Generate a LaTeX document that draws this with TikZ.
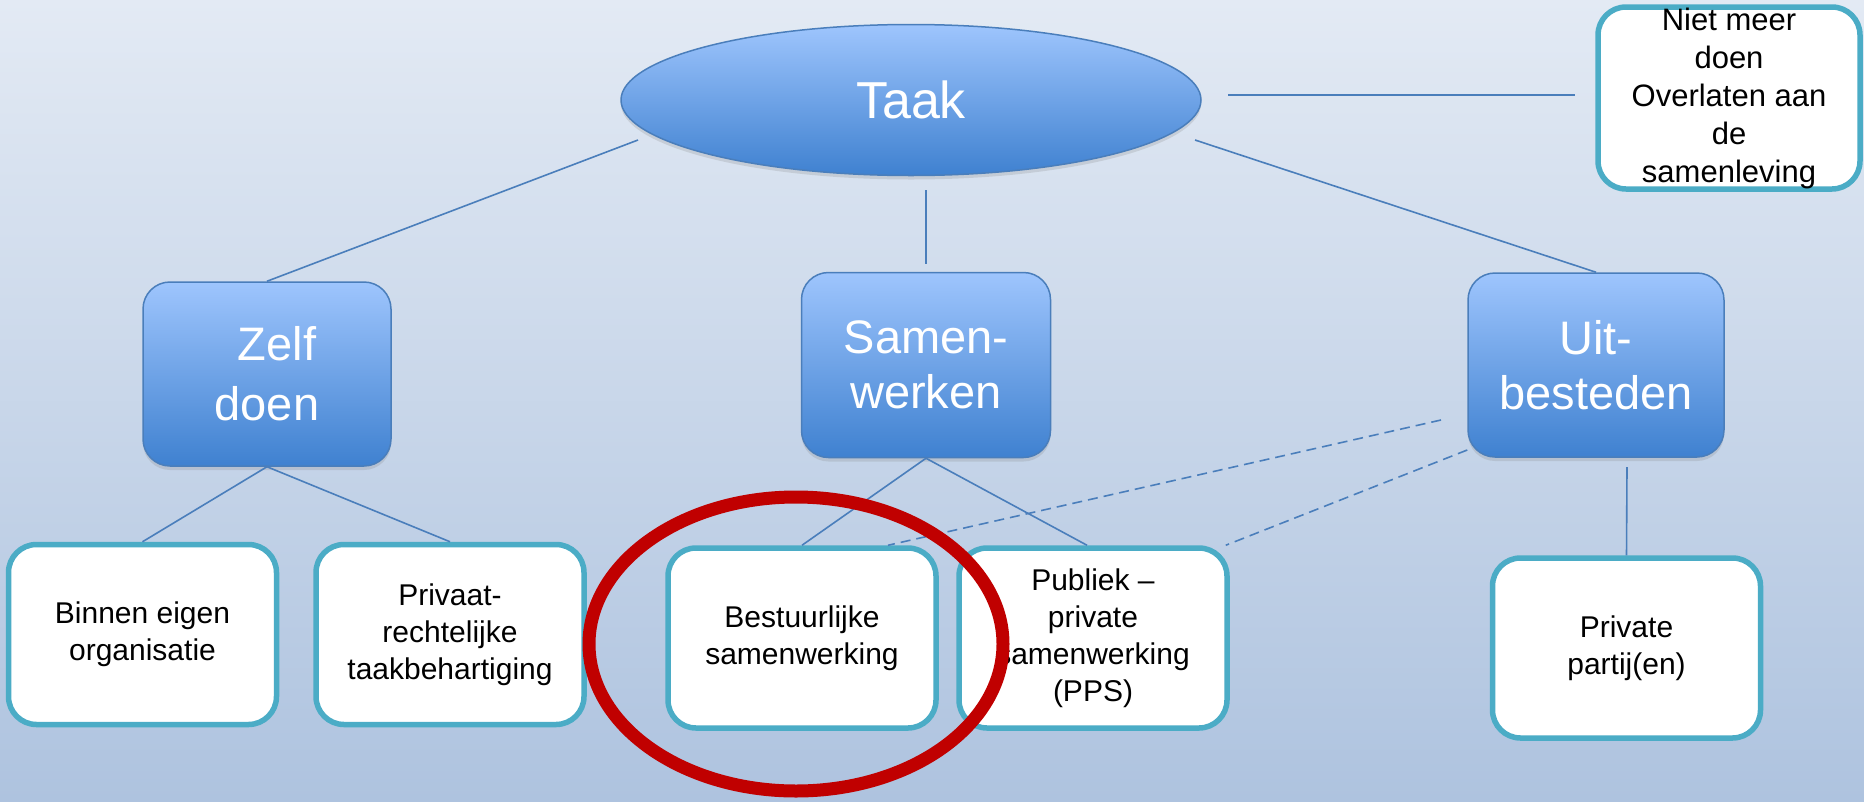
\documentclass[tikz,border=0pt]{standalone}
\usepackage{fontspec}
\setmainfont{Liberation Sans}
\usetikzlibrary{shapes.geometric,shadows}
\definecolor{bgtop}{HTML}{E3EAF4}
\definecolor{bgbot}{HTML}{AEC3DF}
\definecolor{bluetop}{HTML}{9EC5FD}
\definecolor{bluebot}{HTML}{3F81D0}
\definecolor{blueedge}{HTML}{4A7EBB}
\definecolor{tealedge}{HTML}{4BACC6}
\definecolor{linecol}{HTML}{4A7EBB}
\definecolor{redring}{HTML}{C00000}
\tikzset{
  softshadow/.style={drop shadow={shadow xshift=0pt, shadow yshift=-4pt, opacity=0.22}},
  bluebox/.style={rounded corners=27pt, draw=blueedge, line width=1.5pt,
    top color=bluetop, bottom color=bluebot, text=white, align=center,
    inner sep=0pt, font=\fontsize{47}{55}\selectfont, softshadow},
  whitebox/.style={rounded corners=28pt, draw=tealedge, line width=5.5pt,
    fill=white, minimum width=268pt, minimum height=180pt, align=center,
    inner sep=0pt, font=\fontsize{30}{37}\selectfont},
  link/.style={draw=linecol, line width=1.6pt},
  dlink/.style={link, dash pattern=on 10pt off 6pt},
}
\begin{document}
\begin{tikzpicture}[x=1pt,y=-1pt]
\useasboundingbox (0,0) rectangle (1864,801);
\shade[top color=bgtop, bottom color=bgbot] (0,0) rectangle (1864,801);

% top
\node[ellipse, draw=blueedge, line width=1.5pt, top color=bluetop, bottom color=bluebot,
      minimum width=580pt, minimum height=151pt, inner sep=0pt, text=white,
      font=\fontsize{52}{60}\selectfont, softshadow] (taak) at (911,100) {Taak};
\node[whitebox, minimum width=262pt, minimum height=182pt,
      font=\fontsize{31}{38}\selectfont] (niet) at (1729,98)
      {Niet meer\\doen\\Overlaten aan\\de\\samenleving};

% middle level
\node[bluebox, minimum width=248pt, minimum height=184pt,
      font=\fontsize{47}{60}\selectfont] (zelf) at (267,374) {\hspace*{20pt}Zelf\\doen};
\node[bluebox, minimum width=249pt, minimum height=185pt] (samen) at (926,365) {Samen-\\werken};
\node[bluebox, minimum width=256pt, minimum height=184pt] (uit) at (1596,365) {Uit-\\besteden};

% bottom level
\node[whitebox] (binnen) at (142.5,634.5) {Binnen eigen\\organisatie};
\node[whitebox] (privaat) at (450,634.5) {Privaat-\\rechtelijke\\taakbehartiging};
\node[whitebox] (best) at (802,638) {Bestuurlijke\\samenwerking};
\node[whitebox] (publiek) at (1093,638) {Publiek --\\private\\samenwerking\\(PPS)};
\node[whitebox] (private) at (1626.5,648) {Private\\partij(en)};

% free ends
\coordinate (tl) at (638,140);
\coordinate (tm1) at (926,190);
\coordinate (tm2) at (926,264);
\coordinate (tr) at (1195,140);
\coordinate (tn1) at (1228,95);
\coordinate (tn2) at (1575,95);
\coordinate (d1) at (1441,420);
\coordinate (u1) at (1627,467);

% connectors
\draw[link] (tl) -- (zelf.north);
\draw[link] (tm1) -- (tm2);
\draw[link] (tr) -- (uit.north);
\draw[link] (tn1) -- (tn2);
\draw[link] (zelf.south) -- (binnen.north);
\draw[link] (zelf.south) -- (privaat.north);
\draw[link] (samen.south) -- (best.north);
\draw[link] (samen.south) -- ([xshift=-6pt]publiek.north);
\draw[link] (u1) -- (private.north);
\draw[dlink] (d1) -- ([xshift=86pt]best.north);
\draw[dlink] ([yshift=-85pt]uit.west) -- ([xshift=-4pt]publiek.north east);

% highlight ring
\node[ellipse, draw=redring, line width=13pt, minimum width=414pt, minimum height=294pt,
      inner sep=0pt] (ring) at (796,644) {};
\end{tikzpicture}
\end{document}
